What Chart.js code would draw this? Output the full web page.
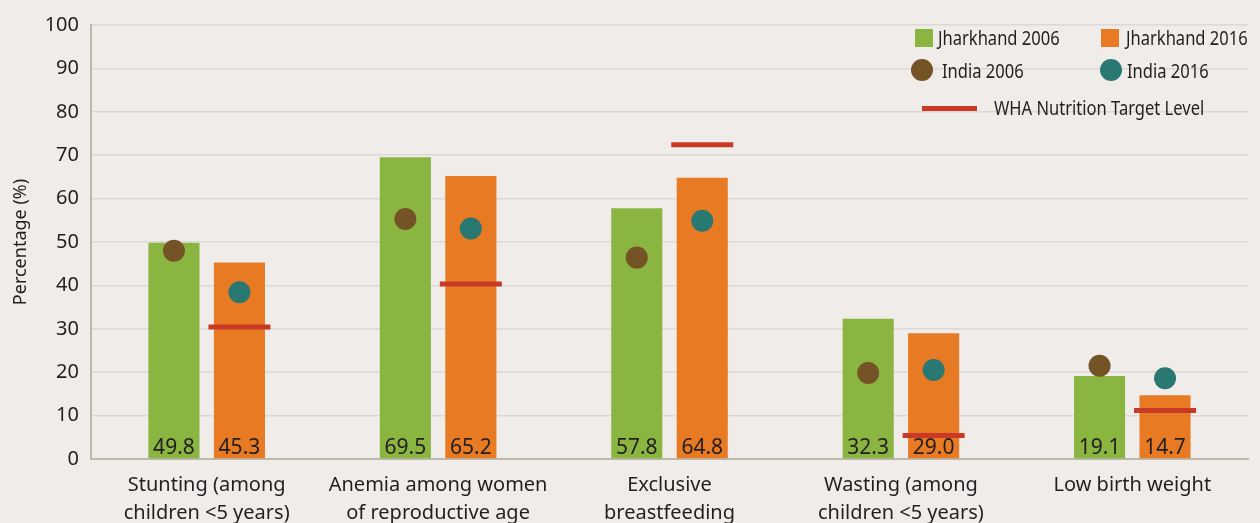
<!DOCTYPE html>
<html>
<head>
<meta charset="utf-8">
<script src="https://cdn.jsdelivr.net/npm/chart.js@4"></script>
<style>
    html, body { margin: 0; padding: 0; background: #efecea; }
    #wrap { width: 1260px; height: 523px; position: relative; }
</style>
</head>
<body>
<div id="wrap"><canvas id="nutritionChart"></canvas></div>
<script>
const categories = [
    ["Stunting (among", "children <5 years)"],
    ["Anemia among women", "of reproductive age"],
    ["Exclusive", "breastfeeding"],
    ["Wasting (among", "children <5 years)"],
    ["Low birth weight"]
];
const jharkhand2006 = [49.8, 69.5, 57.8, 32.3, 19.1];
const jharkhand2016 = [45.3, 65.2, 64.8, 29.0, 14.7];
const india2006 = [48.0, 55.3, 46.4, 19.8, 21.5];
const india2016 = [38.4, 53.1, 54.9, 20.5, 18.6];
const whaTarget = [30.4, 40.3, 72.4, 5.4, 11.2];
const yTicks = [0, 10, 20, 30, 40, 50, 60, 70, 80, 90, 100];

const COLORS = {
    green: "#8ab540",
    orange: "#e87a24",
    brown: "#745426",
    teal: "#2a7872",
    red: "#c83a26",
    text: "#231f20",
    grid: "#dcd9d4",
    axis: "#bdb9aa",
    bg: "#efecea"
};

// every mark shares one numeric x axis: category i sits at x = i,
// bars take two slots per category, dots and target lines reuse the slot centres
const CAT_PCT = 0.566;
const SLOT_SHIFT = CAT_PCT / 4;

function pointsAt(values, shift) {
    return values.map((v, i) => ({ x: i + shift, y: v }));
}

const background = {
    id: "background",
    beforeDraw(chart) {
        const ctx = chart.ctx;
        ctx.save();
        ctx.fillStyle = COLORS.bg;
        ctx.fillRect(0, 0, chart.width, chart.height);
        ctx.restore();
    }
};

// value printed at the foot of each bar
const barValues = {
    id: "barValues",
    afterDatasetsDraw(chart) {
        const ctx = chart.ctx;
        ctx.save();
        ctx.font = "21px 'Noto Sans'";
        ctx.fillStyle = COLORS.text;
        ctx.textAlign = "center";
        ctx.textBaseline = "alphabetic";
        chart.data.datasets.forEach((ds, di) => {
            if (ds.type !== "bar") return;
            const meta = chart.getDatasetMeta(di);
            meta.data.forEach((bar, i) => {
                ctx.fillText(ds.data[i].y.toFixed(1), bar.x, bar.base - 4);
            });
        });
        ctx.restore();
    }
};

function narrowText(ctx, text, x, y) {
    ctx.save();
    ctx.translate(x, y);
    ctx.scale(0.87, 1);
    ctx.fillText(text, 0, 0);
    ctx.restore();
}

const legendBox = {
    id: "legendBox",
    afterDraw(chart) {
        const ctx = chart.ctx;
        ctx.save();
        ctx.font = "19px 'Noto Sans'";
        ctx.textBaseline = "middle";

        ctx.fillStyle = COLORS.green;
        ctx.fillRect(915, 29, 18, 18);
        ctx.fillStyle = COLORS.orange;
        ctx.fillRect(1101, 29, 18, 18);

        ctx.fillStyle = COLORS.brown;
        ctx.beginPath(); ctx.arc(922, 70, 11, 0, Math.PI * 2); ctx.fill();
        ctx.fillStyle = COLORS.teal;
        ctx.beginPath(); ctx.arc(1111, 70, 11, 0, Math.PI * 2); ctx.fill();

        ctx.fillStyle = COLORS.red;
        ctx.fillRect(922, 106, 55, 5);

        ctx.fillStyle = COLORS.text;
        narrowText(ctx, "Jharkhand 2006", 938, 40);
        narrowText(ctx, "Jharkhand 2016", 1126, 40);
        narrowText(ctx, "India 2006", 942, 73);
        narrowText(ctx, "India 2016", 1127, 73);
        narrowText(ctx, "WHA Nutrition Target Level", 994, 110);
        ctx.restore();
    }
};

const barStyle = { categoryPercentage: CAT_PCT, barPercentage: 0.78, order: 3 };

const ctx = document.getElementById("nutritionChart").getContext("2d");
const chart = new Chart(ctx, {
    type: "bar",
    data: {
        datasets: [
            {
                type: "scatter",
                label: "India 2006",
                data: pointsAt(india2006, -SLOT_SHIFT),
                backgroundColor: COLORS.brown,
                borderWidth: 0,
                pointRadius: 11,
                pointHoverRadius: 11,
                order: 1
            },
            {
                type: "scatter",
                label: "India 2016",
                data: pointsAt(india2016, SLOT_SHIFT),
                backgroundColor: COLORS.teal,
                borderWidth: 0,
                pointRadius: 11,
                pointHoverRadius: 11,
                order: 1
            },
            {
                type: "scatter",
                label: "WHA Nutrition Target Level",
                data: pointsAt(whaTarget, SLOT_SHIFT),
                pointStyle: "line",
                borderColor: COLORS.red,
                borderWidth: 5,
                pointRadius: 31,
                pointHoverRadius: 31,
                order: 2
            },
            {
                type: "bar",
                label: "Jharkhand 2006",
                data: pointsAt(jharkhand2006, 0),
                backgroundColor: COLORS.green,
                ...barStyle
            },
            {
                type: "bar",
                label: "Jharkhand 2016",
                data: pointsAt(jharkhand2016, 0),
                backgroundColor: COLORS.orange,
                ...barStyle
            }
        ]
    },
    options: {
        responsive: true,
        maintainAspectRatio: false,
        animation: false,
        layout: {
            autoPadding: false,
            padding: { top: 25, right: 12, left: 0, bottom: 0 }
        },
        plugins: {
            legend: { display: false },
            tooltip: { enabled: false }
        },
        scales: {
            x: {
                type: "linear",
                min: -0.5,
                max: 4.5,
                offset: false,
                afterBuildTicks(scale) {
                    scale.ticks = categories.map((c, i) => ({ value: i }));
                },
                grid: { display: false, drawTicks: false, offset: false },
                border: { display: true, color: COLORS.axis, width: 2 },
                ticks: {
                    callback: (v) => categories[v],
                    color: COLORS.text,
                    font: { family: "'Noto Sans'", size: 20, lineHeight: 1.4 },
                    padding: 12,
                    maxRotation: 0,
                    autoSkip: false
                },
                afterFit(scale) {
                    scale.height = 64;
                    scale.paddingLeft = 0;
                    scale.paddingRight = 0;
                }
            },
            y: {
                min: 0,
                max: 100,
                afterBuildTicks(scale) {
                    scale.ticks = yTicks.map(v => ({ value: v }));
                },
                grid: { color: COLORS.grid, lineWidth: 1.5, drawTicks: false },
                border: { display: true, color: COLORS.axis, width: 2 },
                ticks: {
                    color: COLORS.text,
                    font: { family: "'Noto Sans'", size: 20 },
                    padding: 12
                },
                title: {
                    display: true,
                    text: "Percentage (%)",
                    color: COLORS.text,
                    font: { family: "'Noto Sans'", size: 18 },
                    padding: { top: 10, bottom: 0 }
                },
                afterFit(scale) {
                    scale.width = 91;
                    scale.paddingTop = 0;
                    scale.paddingBottom = 0;
                }
            }
        }
    },
    plugins: [background, barValues, legendBox]
});
</script>
</body>
</html>
